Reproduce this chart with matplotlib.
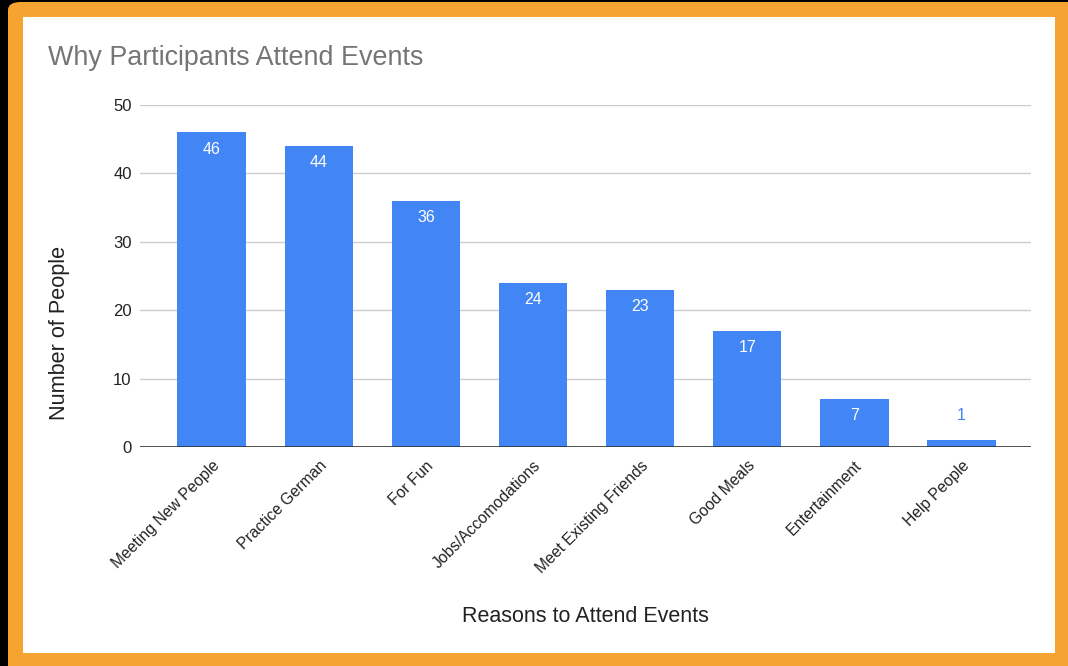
import matplotlib.pyplot as plt
from matplotlib.patches import FancyBboxPatch, Rectangle

plt.rcParams['font.family'] = ['Liberation Sans', 'DejaVu Sans']

reasons = ['Meeting New People', 'Practice German', 'For Fun', 'Jobs/Accomodations',
           'Meet Existing Friends', 'Good Meals', 'Entertainment', 'Help People']
people = [46, 44, 36, 24, 23, 17, 7, 1]
yticks = [0, 10, 20, 30, 40, 50]

W, H = 1068, 666
fig = plt.figure(figsize=(W / 100, H / 100), dpi=100, facecolor='black')

# orange frame and white card
fig.patches.append(FancyBboxPatch((8 / W, -0.05), 1.1, 1.05 - 2 / H,
                                  boxstyle='round,pad=0,rounding_size=0.012',
                                  transform=fig.transFigure, facecolor='#f6a431',
                                  edgecolor='none', zorder=0))
fig.patches.append(Rectangle((23 / W, 1 - 653 / H), (1055 - 23) / W, (653 - 17) / H,
                             transform=fig.transFigure, facecolor='white',
                             edgecolor='none', zorder=1))

ax = fig.add_axes([140 / W, 1 - 447 / H, (1031 - 140) / W, (447 - 105) / H])
ax.set_zorder(3)
ax.set_facecolor('none')
x = range(len(reasons))
bars = ax.bar(x, people, width=0.64, color='#4285f4', zorder=3)

for xi, v in zip(x, people):
    if v > 3:
        ax.annotate(str(v), (xi, v), xytext=(0, -12), textcoords='offset points',
                    ha='center', va='center', color='white', fontsize=11.5)
    else:
        ax.annotate(str(v), (xi, v), xytext=(0, 18), textcoords='offset points',
                    ha='center', va='center', color='#4285f4', fontsize=11.5)

ax.set_xlim(-0.67, 7.65)
ax.set_ylim(0, 50)
ax.set_yticks(yticks)
ax.yaxis.grid(True, color='#cccccc', linewidth=1, zorder=0)
ax.axhline(0, color='#333333', linewidth=1.2, zorder=4)
for s in ax.spines.values():
    s.set_visible(False)
ax.tick_params(axis='both', length=0, colors='#222222')
ax.tick_params(axis='y', pad=6, labelsize=12)
ax.set_xticks(list(x))
ax.set_xticklabels(reasons, rotation=45, ha='right', rotation_mode='anchor')
ax.tick_params(axis='x', pad=8, labelsize=11.3)

t1 = fig.text(48 / W, 1 - 58 / H, 'Why Participants Attend Events', fontsize=19.4,
              color='#757575', ha='left', va='center')
t2 = fig.text(60 / W, 1 - 333 / H, 'Number of People', fontsize=15.6, rotation=90,
              ha='center', va='center', color='#222222')
t3 = fig.text(585 / W, 1 - 616 / H, 'Reasons to Attend Events', fontsize=15.5,
              ha='center', va='center', color='#222222')
for t in (t1, t2, t3):
    t.set_zorder(5)

plt.savefig('out.png', dpi=100, facecolor='black')
plt.close()
